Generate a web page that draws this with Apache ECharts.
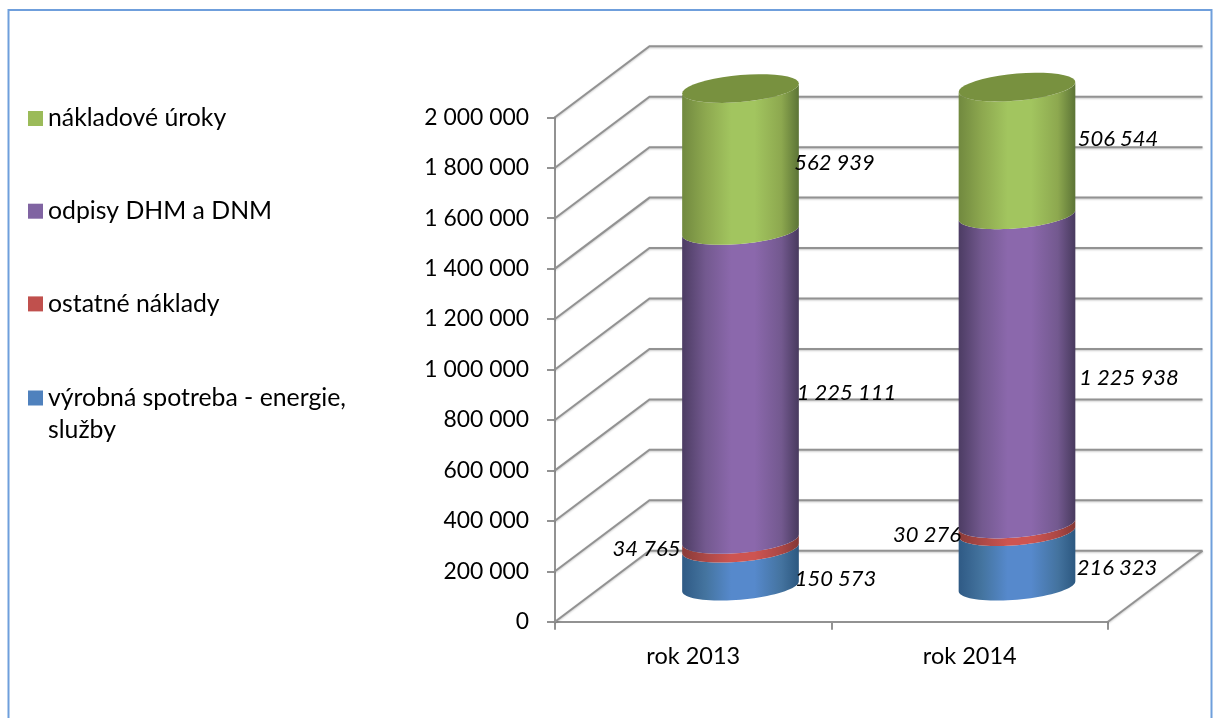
<!DOCTYPE html>
<html><head><meta charset="utf-8">
<style>html,body{margin:0;padding:0;background:#fff}#c{width:1219px;height:718px}</style>
<script src="https://cdn.jsdelivr.net/npm/echarts@6/dist/echarts.min.js"></script>
</head><body><div id="c"></div>
<script>
var categories = ['rok 2013', 'rok 2014'];
var vyrobna = [150573, 216323];
var ostatne = [34765, 30276];
var odpisy = [1225111, 1225938];
var uroky = [562939, 506544];
var seriesNames = ['výrobná spotreba - energie, služby', 'ostatné náklady', 'odpisy DHM a DNM', 'nákladové úroky'];
var yTicks = [0, 200000, 400000, 600000, 800000, 1000000, 1200000, 1400000, 1600000, 1800000, 2000000];

var FONT = 'Lato, Carlito, sans-serif';
var GRID_COLOR = '#929292';
var DEPTH = {x: 94.5, y: -71};
var CYL = {halfRatio: 0.211, k: -0.085, b: 13.5};
var looks = [
  {base: '#4F81BD', stops: ['#2f5a85', '#44749f', '#5689cc', '#5689cc', '#44739f', '#2c5880']},
  {base: '#C0504D', stops: ['#8a3b39', '#ab4846', '#cd5451', '#cd5451', '#ab4745', '#843735']},
  {base: '#8064A2', stops: ['#4c3c63', '#73598f', '#8b68ac', '#8b68ac', '#73598f', '#483a5e']},
  {base: '#9BBB59', stops: ['#71893f', '#8da84f', '#a2c55f', '#a2c55f', '#8da84f', '#5c7436']}
];
var CAP_COLOR = '#78913f';
var labelOffsets = [
  [[95, 12], [100, 9]],
  [[-94, 5], [-90, 7]],
  [[106, 8], [112, 8]],
  [[94, 3], [101, -12]]
];

function fmt(v) { return String(v).replace(/\B(?=(\d{3})+$)/g, ' '); }
var layers = [vyrobna, ostatne, odpisy, uroky];
var running = categories.map(function () { return 0; });
var stacked = layers.map(function (vals) {
  return vals.map(function (v, i) { var s = running[i]; running[i] += v; return [i, s, running[i], v]; });
});

function arc(cx, cy, a, from, to) {
  var pts = [], n = 40;
  for (var i = 0; i <= n; i++) {
    var t = from + (to - from) * i / n;
    pts.push([cx + a * Math.cos(t), cy + CYL.k * a * Math.cos(t) + CYL.b * Math.sin(t)]);
  }
  return pts;
}
function cylinderItem(layerIdx) {
  return function (params, api) {
    var cat = api.value(0), v0 = api.value(1), v1 = api.value(2), val = api.value(3);
    var band = api.size([1, 0])[0];
    var a = band * CYL.halfRatio;
    var p0 = api.coord([cat, v0]), p1 = api.coord([cat, v1]), pm = api.coord([cat, (v0 + v1) / 2]);
    var cx = p0[0] + DEPTH.x / 2, y0 = p0[1] + DEPTH.y / 2, y1 = p1[1] + DEPTH.y / 2, ym = pm[1] + DEPTH.y / 2;
    var st = looks[layerIdx].stops;
    var fill = new echarts.graphic.LinearGradient(0, 0, 1, 0, [
      {offset: 0, color: st[0]}, {offset: 0.2, color: st[1]}, {offset: 0.42, color: st[2]},
      {offset: 0.62, color: st[3]}, {offset: 0.85, color: st[4]}, {offset: 1, color: st[5]}
    ]);
    var pts = arc(cx, y1, a, 0, Math.PI).concat(arc(cx, y0, a, Math.PI, 0));
    var children = [{type: 'polygon', shape: {points: pts}, style: {fill: fill}}];
    if (layerIdx === layers.length - 1) {
      children.push({type: 'polygon', shape: {points: arc(cx, y1, a, 0, Math.PI * 2)}, style: {fill: CAP_COLOR}});
    }
    var off = labelOffsets[layerIdx][cat];
    children.push({type: 'text', z2: 50, style: {
      x: cx + off[0], y: ym + off[1], text: fmt(val), align: 'center', verticalAlign: 'middle',
      font: 'italic 22px ' + FONT, fill: '#000'
    }});
    return {type: 'group', children: children};
  };
}
function wallItem(params, api) {
  var v = api.value(0), cs = params.coordSys;
  var y = api.coord([0, v])[1], xl = cs.x, xr = cs.x + cs.width;
  var lineStyle = {stroke: GRID_COLOR, lineWidth: 2, fill: null, shadowColor: 'rgba(0,0,0,0.22)', shadowBlur: 2, shadowOffsetY: 1};
  var children = [{type: 'polyline', shape: {points: [[xl, y], [xl + DEPTH.x, y + DEPTH.y], [xr + DEPTH.x, y + DEPTH.y]]}, style: lineStyle}];
  if (v === 0) {
    children.push({type: 'polyline', shape: {points: [[xr, y], [xr + DEPTH.x, y + DEPTH.y]]}, style: lineStyle});
  }
  return {type: 'group', children: children};
}

var chart = echarts.init(document.getElementById('c'), null, {renderer: 'canvas'});
var series = [{
  type: 'custom', name: 'walls', silent: true, z: 1, renderItem: wallItem,
  data: yTicks.map(function (v) { return [v]; }), encode: {y: 0}
}];
seriesNames.forEach(function (name, i) {
  series.push({
    type: 'custom', name: name, z: 3 + i, renderItem: cylinderItem(i),
    itemStyle: {color: looks[i].base}, data: stacked[i], encode: {x: 0, y: [1, 2]}
  });
});
var legendText = {fontFamily: FONT, fontSize: 24.8, color: '#000', lineHeight: 31};
var legendTextWrapped = {fontFamily: FONT, fontSize: 24.8, color: '#000', lineHeight: 32};
chart.setOption({
  animation: false,
  backgroundColor: '#fff',
  graphic: [{type: 'rect', z: 0, shape: {x: 8.5, y: 10, width: 1203, height: 800},
    style: {fill: '#fff', stroke: '#6f9fdc', lineWidth: 2}}],
  grid: {left: 555, top: 117.3, width: 553, height: 504.4},
  legend: [
    {orient: 'vertical', left: 23, top: 98, itemWidth: 15, itemHeight: 15, itemGap: 61.7, icon: 'rect',
      selectedMode: false, textStyle: legendText, data: [seriesNames[3], seriesNames[2], seriesNames[1]]},
    {orient: 'vertical', left: 23, top: 345, itemWidth: 15, itemHeight: 15, icon: 'rect', selectedMode: false,
      textStyle: legendTextWrapped, data: [seriesNames[0]],
      formatter: function () { return '\nvýrobná spotreba - energie,\nslužby'; }}
  ],
  xAxis: {type: 'category', data: categories,
    axisLine: {lineStyle: {color: GRID_COLOR, width: 2}},
    axisTick: {show: true, length: 8, lineStyle: {color: GRID_COLOR, width: 2}},
    axisLabel: {fontFamily: FONT, fontSize: 23.5, color: '#000', margin: 23}},
  yAxis: {type: 'value', min: 0, max: 2000000, interval: 200000,
    splitLine: {show: false},
    axisLine: {show: true, lineStyle: {color: GRID_COLOR, width: 2}},
    axisTick: {show: true, length: 8, lineStyle: {color: GRID_COLOR, width: 2}},
    axisLabel: {fontFamily: FONT, fontSize: 22.9, color: '#000', margin: 26, formatter: function (v) { return fmt(v); }}},
  series: series
});
</script></body></html>
